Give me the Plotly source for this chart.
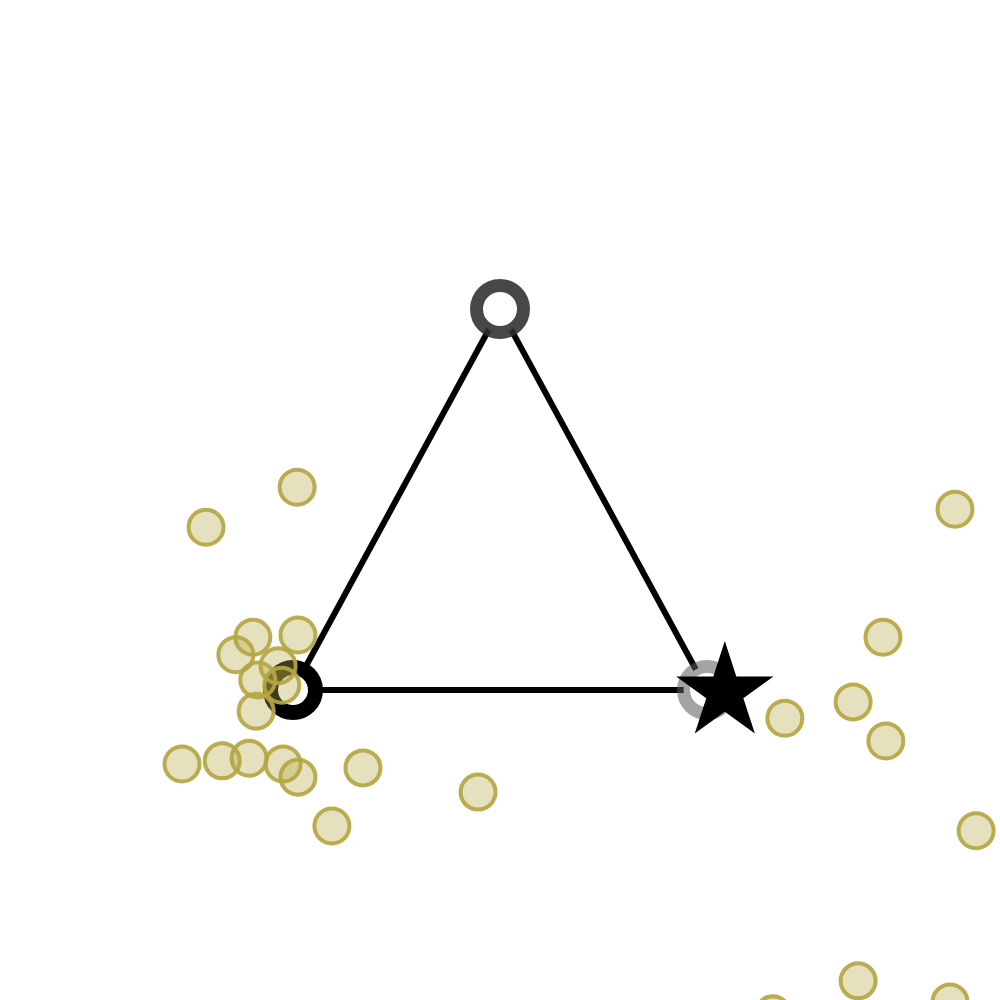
import plotly.graph_objects as go

# Triangle vertices (data units)
vert_u = [0.0, 1.0, 0.5]
vert_v = [0.0, 0.0, 0.866]

# Scattered points
pts_u = [-0.268, -0.171, -0.106, -0.024, 0.012, 0.169, 0.094, 0.447, -0.210, 0.010,
         -0.097, 0.012, -0.138, -0.036, -0.085, -0.027, -0.089, 1.188, 1.599, 1.425,
         1.353, 1.432, 1.650, 1.365, 1.587, 1.159]
pts_v = [-0.168, -0.161, -0.155, -0.168, -0.198, -0.177, -0.309, -0.232, 0.370, 0.461,
         0.120, 0.125, 0.080, 0.055, 0.023, 0.011, -0.048, -0.064, 0.411, 0.120,
         -0.027, -0.116, -0.320, -0.661, -0.709, -0.736]

# Star point
star_u = [1.043]
star_v = [-0.005]

fig = go.Figure()

# Triangle edges
fig.add_trace(go.Scatter(
    x=vert_u + [vert_u[0]], y=vert_v + [vert_v[0]], mode="lines",
    line=dict(color="black", width=6), hoverinfo="skip", showlegend=False))

# Vertex markers
fig.add_trace(go.Scatter(
    x=[vert_u[2]], y=[vert_v[2]], mode="markers",
    marker=dict(size=47, color="white", line=dict(color="rgba(45,45,45,0.88)", width=13)),
    showlegend=False))
fig.add_trace(go.Scatter(
    x=[vert_u[0]], y=[vert_v[0]], mode="markers",
    marker=dict(size=45, color="white", line=dict(color="black", width=15)),
    showlegend=False))
fig.add_trace(go.Scatter(
    x=[vert_u[1]], y=[vert_v[1]], mode="markers",
    marker=dict(size=47, color="white", line=dict(color="rgba(90,90,90,0.55)", width=13)),
    showlegend=False))

# Scattered olive points
fig.add_trace(go.Scatter(
    x=pts_u, y=pts_v, mode="markers",
    marker=dict(size=35, color="rgba(181,166,66,0.35)",
                line=dict(color="rgba(181,166,66,0.92)", width=4)),
    showlegend=False))

# Star
fig.add_trace(go.Scatter(
    x=star_u, y=star_v, mode="markers",
    marker=dict(symbol="star", size=73, color="black", line=dict(width=0)),
    showlegend=False))

fig.update_layout(
    width=1000, height=1000,
    margin=dict(l=0, r=0, t=0, b=0),
    paper_bgcolor="white", plot_bgcolor="white",
    hovermode=False,
    xaxis=dict(range=[-0.7077, 1.7077], visible=False, showgrid=False, zeroline=False),
    yaxis=dict(range=[-0.7045, 1.5682], visible=False, showgrid=False, zeroline=False),
)

fig.write_html("out.html",
               config={"displayModeBar": False},
               post_script="document.body.style.margin='0';document.body.style.overflow='hidden';")
